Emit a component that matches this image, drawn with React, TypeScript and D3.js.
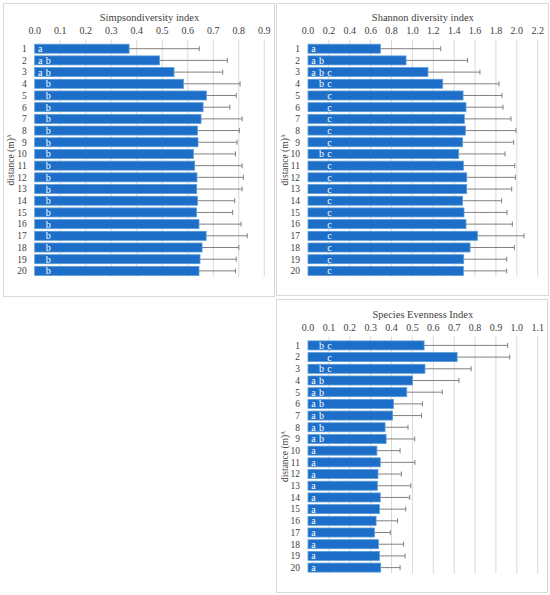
import * as d3 from "d3";
import { useEffect, useRef } from "react";

const distances = d3.range(1, 21).map(String);

const simpsonMean = [0.37, 0.489, 0.546, 0.583, 0.673, 0.66, 0.652, 0.638, 0.64, 0.622, 0.627, 0.636, 0.635, 0.638, 0.634, 0.644, 0.672, 0.656, 0.648, 0.644];
const simpsonUpper = [0.645, 0.755, 0.737, 0.805, 0.79, 0.765, 0.813, 0.802, 0.793, 0.787, 0.813, 0.818, 0.813, 0.784, 0.776, 0.809, 0.833, 0.8, 0.79, 0.787];
const simpsonLetters = ["a", "a b", "a b", "b", "b", "b", "b", "b", "b", "b", "b", "b", "b", "b", "b", "b", "b", "b", "b", "b"];
const simpsonTicks = d3.range(0, 10).map((i) => i / 10);

const shannonMean = [0.693, 0.939, 1.149, 1.29, 1.485, 1.513, 1.497, 1.507, 1.481, 1.443, 1.488, 1.52, 1.52, 1.481, 1.494, 1.513, 1.622, 1.552, 1.491, 1.488];
const shannonUpper = [1.271, 1.529, 1.647, 1.829, 1.858, 1.868, 1.944, 1.992, 1.97, 1.887, 1.98, 1.986, 1.951, 1.855, 1.906, 1.957, 2.069, 1.976, 1.903, 1.903];
const shannonLetters = ["a", "a b", "a b c", "b c", "c", "c", "c", "c", "c", "b c", "c", "c", "c", "c", "c", "c", "c", "c", "c", "c"];
const shannonTicks = d3.range(0, 12).map((i) => i / 5);

const evennessMean = [0.556, 0.714, 0.56, 0.5, 0.473, 0.409, 0.405, 0.369, 0.374, 0.33, 0.346, 0.335, 0.332, 0.346, 0.342, 0.326, 0.318, 0.337, 0.342, 0.348];
const evennessUpper = [0.956, 0.966, 0.781, 0.723, 0.643, 0.548, 0.544, 0.479, 0.511, 0.441, 0.512, 0.447, 0.492, 0.487, 0.468, 0.429, 0.394, 0.458, 0.465, 0.441];
const evennessLetters = ["b c", "c", "b c", "a b", "a b", "a b", "a b", "a b", "a b", "a", "a", "a", "a", "a", "a", "a", "a", "a", "a", "a"];
const evennessTicks = d3.range(0, 12).map((i) => i / 10);

const FONT = "'Liberation Serif', 'DejaVu Serif', serif";

type Panel = {
  title: string;
  mean: number[];
  upper: number[];
  letters: string[];
  ticks: number[];
  box: [number, number, number, number];
  xRange: [number, number];
  yRange: [number, number];
  yTitleX: number;
};

const panels: Panel[] = [
  {
    title: "Simpsondiversity index",
    mean: simpsonMean,
    upper: simpsonUpper,
    letters: simpsonLetters,
    ticks: simpsonTicks,
    box: [3, 3, 271, 293],
    xRange: [34.7, 264.3],
    yRange: [42.8, 276.8],
    yTitleX: 11.5,
  },
  {
    title: "Shannon diversity index",
    mean: shannonMean,
    upper: shannonUpper,
    letters: shannonLetters,
    ticks: shannonTicks,
    box: [276, 3, 272, 292],
    xRange: [308, 537.7],
    yRange: [42.8, 276.8],
    yTitleX: 285.5,
  },
  {
    title: "Species Evenness Index",
    mean: evennessMean,
    upper: evennessUpper,
    letters: evennessLetters,
    ticks: evennessTicks,
    box: [276, 299, 271, 293],
    xRange: [308, 537.7],
    yRange: [339.5, 573.5],
    yTitleX: 285.5,
  },
];

const App = () => {
  const ref = useRef<SVGSVGElement | null>(null);

  useEffect(() => {
    if (!ref.current) return;
    document.body.style.margin = "0";
    const svg = d3.select(ref.current);
    svg.selectAll("*").remove();

    svg.append("rect").attr("width", 550).attr("height", 595).attr("fill", "#fff");

    panels.forEach((p) => {
      const g = svg.append("g").style("font-family", FONT);
      const [bx, by, bw, bh] = p.box;
      g.append("rect")
        .attr("x", bx + 0.5)
        .attr("y", by + 0.5)
        .attr("width", bw)
        .attr("height", bh)
        .attr("fill", "#fff")
        .attr("stroke", "#d9d9d9");

      const x = d3
        .scaleLinear()
        .domain([0, p.ticks[p.ticks.length - 1]])
        .range(p.xRange);
      const y = d3.scaleBand<string>().domain(distances).range(p.yRange).paddingInner(0.23).paddingOuter(0.12);

      // grid
      g.append("g")
        .selectAll("line")
        .data(p.ticks.slice(1))
        .join("line")
        .attr("x1", (d) => x(d))
        .attr("x2", (d) => x(d))
        .attr("y1", p.yRange[0] - 3)
        .attr("y2", p.yRange[1])
        .attr("stroke", "#d9d9d9")
        .attr("stroke-width", 1);

      // top tick labels
      g.append("g")
        .selectAll("text")
        .data(p.ticks)
        .join("text")
        .attr("x", (d) => x(d))
        .attr("y", p.yRange[0] - 12)
        .attr("dy", "0.35em")
        .attr("text-anchor", "middle")
        .attr("font-size", 10)
        .attr("fill", "#404040")
        .text(d3.format(".1f"));

      g.append("text")
        .attr("x", (p.xRange[0] + p.xRange[1]) / 2)
        .attr("y", p.yRange[0] - 25)
        .attr("dy", "0.35em")
        .attr("text-anchor", "middle")
        .attr("font-size", 10.5)
        .attr("fill", "#404040")
        .text(p.title);

      // y labels
      g.append("g")
        .selectAll("text")
        .data(distances)
        .join("text")
        .attr("x", p.xRange[0] - 8)
        .attr("y", (d) => y(d)! + y.bandwidth() / 2)
        .attr("dy", "0.35em")
        .attr("text-anchor", "end")
        .attr("font-size", 9.5)
        .attr("fill", "#404040")
        .text((d) => d);

      const yt = g
        .append("text")
        .attr("transform", `translate(${p.yTitleX},${(p.yRange[0] + p.yRange[1]) / 2}) rotate(-90)`)
        .attr("text-anchor", "middle")
        .attr("dy", "0.3em")
        .attr("font-size", 9.5)
        .attr("fill", "#404040");
      yt.append("tspan").text("distance (m)");
      yt.append("tspan").attr("font-size", 5.5).attr("dy", "-0.7em").text("A");

      // error bars
      const eb = g.append("g").attr("stroke", "#808080").attr("stroke-width", 1);
      distances.forEach((d, i) => {
        const cy = y(d)! + y.bandwidth() / 2;
        eb.append("line")
          .attr("x1", x(p.mean[i]))
          .attr("x2", x(p.upper[i]))
          .attr("y1", cy)
          .attr("y2", cy);
        eb.append("line")
          .attr("x1", x(p.upper[i]))
          .attr("x2", x(p.upper[i]))
          .attr("y1", cy - 2.5)
          .attr("y2", cy + 2.5);
      });

      // bars
      g.append("g")
        .selectAll("rect")
        .data(distances)
        .join("rect")
        .attr("x", x(0))
        .attr("y", (d) => y(d)!)
        .attr("width", (d, i) => x(p.mean[i]) - x(0))
        .attr("height", y.bandwidth())
        .attr("fill", "#1c6ec9")
        .attr("stroke", "#5b9bd5")
        .attr("stroke-width", 0.8);

      // significance letters
      const lg = g.append("g").attr("fill", "#fff").attr("font-size", 10);
      distances.forEach((d, i) => {
        const cy = y(d)! + y.bandwidth() / 2;
        p.letters[i].split(" ").forEach((ch) => {
          const col = ch.charCodeAt(0) - 97;
          lg.append("text")
            .attr("x", x(0) + 5.5 + col * 8)
            .attr("y", cy)
            .attr("dy", "0.35em")
            .attr("text-anchor", "middle")
            .text(ch);
        });
      });
    });
  }, []);

  return <svg ref={ref} width={550} height={595} style={{ display: "block" }} />;
};

export default App;
